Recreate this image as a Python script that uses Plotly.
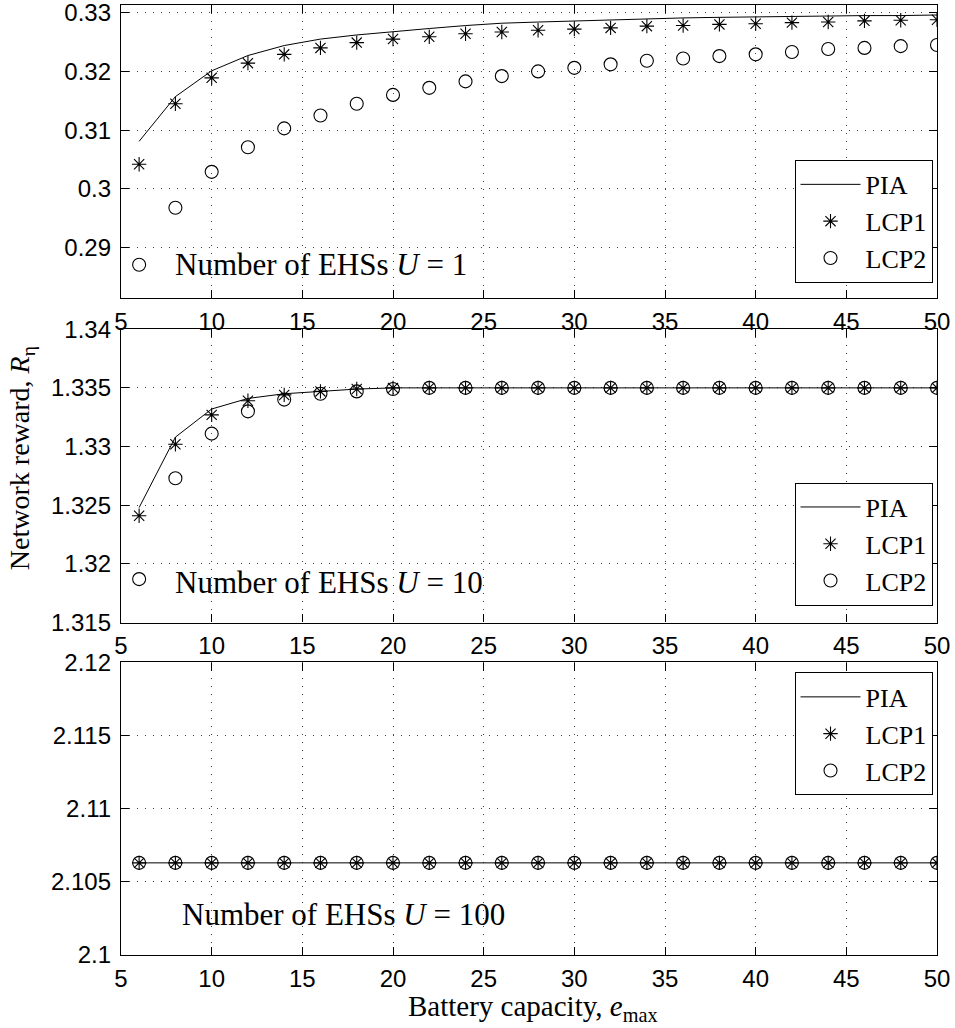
import plotly.graph_objects as go

# ---------------- data ----------------
battery_capacity = [6, 8, 10, 12, 14, 16, 18, 20, 22, 24, 26, 28, 30, 32, 34, 36, 38, 40, 42, 44, 46, 48, 50]

# U = 1
pia_u1 = [0.3081, 0.3157, 0.3201, 0.3227, 0.3244, 0.3255, 0.3262, 0.3268, 0.3273, 0.3278, 0.3282, 0.3284,
          0.3286, 0.3288, 0.3290, 0.3291, 0.3292, 0.3293, 0.3294, 0.3294, 0.3295, 0.3295, 0.3296]
lcp1_u1 = [0.3042, 0.3145, 0.3189, 0.3214, 0.3229, 0.3240, 0.3249, 0.3255, 0.3259, 0.3264, 0.3267, 0.3270,
           0.3272, 0.3274, 0.3277, 0.3278, 0.3280, 0.3281, 0.3283, 0.3284, 0.3286, 0.3287, 0.3288]
lcp2_u1 = [0.2871, 0.2968, 0.3029, 0.3071, 0.3103, 0.3125, 0.3145, 0.3160, 0.3172, 0.3183, 0.3192, 0.3200,
           0.3206, 0.3212, 0.3218, 0.3222, 0.3226, 0.3229, 0.3233, 0.3238, 0.3240, 0.3243, 0.3245]

# U = 10
pia_u10 = [1.3248, 1.3308, 1.3332, 1.3341, 1.3345, 1.3347, 1.3349, 1.3350, 1.3350, 1.3350, 1.3350, 1.3350,
           1.3350, 1.3350, 1.3350, 1.3350, 1.3350, 1.3350, 1.3350, 1.3350, 1.3350, 1.3350, 1.3350]
lcp1_u10 = [1.3241, 1.3302, 1.3327, 1.3339, 1.3344, 1.3347, 1.3349, 1.3350, 1.3350, 1.3350, 1.3350, 1.3350,
            1.3350, 1.3350, 1.3350, 1.3350, 1.3350, 1.3350, 1.3350, 1.3350, 1.3350, 1.3350, 1.3350]
lcp2_u10 = [1.3187, 1.3273, 1.3311, 1.3330, 1.3340, 1.3345, 1.3347, 1.3349, 1.3350, 1.3350, 1.3350, 1.3350,
            1.3350, 1.3350, 1.3350, 1.3350, 1.3350, 1.3350, 1.3350, 1.3350, 1.3350, 1.3350, 1.3350]

# U = 100
pia_u100 = [2.1063, 2.1063, 2.1063, 2.1063, 2.1063, 2.1063, 2.1063, 2.1063, 2.1063, 2.1063, 2.1063, 2.1063,
            2.1063, 2.1063, 2.1063, 2.1063, 2.1063, 2.1063, 2.1063, 2.1063, 2.1063, 2.1063, 2.1063]
lcp1_u100 = [2.1063, 2.1063, 2.1063, 2.1063, 2.1063, 2.1063, 2.1063, 2.1063, 2.1063, 2.1063, 2.1063, 2.1063,
             2.1063, 2.1063, 2.1063, 2.1063, 2.1063, 2.1063, 2.1063, 2.1063, 2.1063, 2.1063, 2.1063]
lcp2_u100 = [2.1063, 2.1063, 2.1063, 2.1063, 2.1063, 2.1063, 2.1063, 2.1063, 2.1063, 2.1063, 2.1063, 2.1063,
             2.1063, 2.1063, 2.1063, 2.1063, 2.1063, 2.1063, 2.1063, 2.1063, 2.1063, 2.1063, 2.1063]

x_ticks = [5, 10, 15, 20, 25, 30, 35, 40, 45, 50]
y_ticks_u1 = [0.29, 0.30, 0.31, 0.32, 0.33]
y_ticklabels_u1 = ["0.29", "0.3", "0.31", "0.32", "0.33"]
y_ticks_u10 = [1.315, 1.32, 1.325, 1.33, 1.335, 1.34]
y_ticklabels_u10 = ["1.315", "1.32", "1.325", "1.33", "1.335", "1.34"]
y_ticks_u100 = [2.1, 2.105, 2.11, 2.115, 2.12]
y_ticklabels_u100 = ["2.1", "2.105", "2.11", "2.115", "2.12"]

series_names = ["PIA", "LCP1", "LCP2"]
panel_labels = ["Number of EHSs <i>U</i> = 1", "Number of EHSs <i>U</i> = 10", "Number of EHSs <i>U</i> = 100"]

# ---------------- figure ----------------
SERIF = "Liberation Serif"
SANS = "Liberation Sans"

fig = go.Figure()

panels = [
    (pia_u1, lcp1_u1, lcp2_u1),
    (pia_u10, lcp1_u10, lcp2_u10),
    (pia_u100, lcp1_u100, lcp2_u100),
]
legend_ids = ["legend", "legend2", "legend3"]

for i, (pia, lcp1, lcp2) in enumerate(panels):
    ax = "" if i == 0 else str(i + 1)
    common = dict(xaxis="x" + ax, yaxis="y" + ax, legend=legend_ids[i])
    fig.add_trace(go.Scatter(x=battery_capacity, y=pia, mode="lines", name=series_names[0],
                             line=dict(color="black", width=1), legendgroup=f"p{i}a", **common))
    fig.add_trace(go.Scatter(x=battery_capacity, y=lcp1, mode="markers", name=series_names[1],
                             marker=dict(symbol="asterisk-open", size=12, color="black",
                                         line=dict(color="black", width=1.1)),
                             legendgroup=f"p{i}b", **common))
    fig.add_trace(go.Scatter(x=battery_capacity, y=lcp2, mode="markers", name=series_names[2],
                             marker=dict(symbol="circle-open", size=13, color="black",
                                         line=dict(color="black", width=1.1)),
                             legendgroup=f"p{i}c", **common))

grid_style = dict(showgrid=True, gridcolor="rgba(0,0,0,0.75)", gridwidth=1, griddash="1px,7px",
                  showline=True, linecolor="black", linewidth=1.3, mirror="allticks",
                  ticks="inside", ticklen=8, tickwidth=1, tickcolor="black", automargin=False,
                  ticklabeloverflow="allow",
                  zeroline=False, tickfont=dict(family=SANS, size=24, color="black"))

domains = [(0.6914, 1.0), (0.35, 0.6587), (0.0, 0.3079)]
y_ranges = [(0.2814, 0.3313), (1.315, 1.34), (2.1, 2.12)]
y_tv = [(y_ticks_u1, y_ticklabels_u1), (y_ticks_u10, y_ticklabels_u10), (y_ticks_u100, y_ticklabels_u100)]

layout = dict(
    width=955, height=1028,
    margin=dict(l=121, r=18, t=5, b=73),
    paper_bgcolor="white", plot_bgcolor="white",
    showlegend=True,
)
for i in range(3):
    ax = "" if i == 0 else str(i + 1)
    layout["xaxis" + ax] = dict(domain=[0, 1], range=[5, 50], tickvals=x_ticks, anchor="y" + ax,
                                ticklabelstandoff=2, **grid_style)
    layout["yaxis" + ax] = dict(domain=list(domains[i]), range=list(y_ranges[i]),
                                tickvals=y_tv[i][0], ticktext=y_tv[i][1], anchor="x" + ax,
                                ticklabelstandoff=4, **grid_style)

legend_tops = [0.8369, 0.4973, 0.2974]
for i in range(3):
    layout[legend_ids[i]] = dict(x=0.9945, y=legend_tops[i], xanchor="right", yanchor="top",
                                 bgcolor="white", bordercolor="black", borderwidth=1,
                                 font=dict(family=SERIF, size=26, color="black"),
                                 tracegroupgap=7, itemwidth=60, traceorder="normal")

fig.update_layout(**layout)

# panel text labels
label_y = [(955.3 - 265) / 950.3, (955.3 - 582.7) / 950.3, (955.3 - 915) / 950.3]
label_x = [0.064, 0.064, 0.072]
for i in range(3):
    fig.add_annotation(text=panel_labels[i], xref="paper", yref="paper", x=label_x[i], y=label_y[i],
                       xanchor="left", yanchor="middle", showarrow=False,
                       font=dict(family=SERIF, size=31, color="black"))

# axis titles
fig.add_annotation(text="Network reward, <i>R</i><sub>η</sub>", xref="paper", yref="paper",
                   x=(22 - 120.7) / 815.8, y=(955.3 - 458) / 950.3, textangle=-90,
                   xanchor="center", yanchor="middle", showarrow=False,
                   font=dict(family=SERIF, size=28, color="black"))
fig.add_annotation(text="Battery capacity, <i>e</i><sub>max</sub>", xref="paper", yref="paper",
                   x=(533 - 120.7) / 815.8, y=(955.3 - 1008) / 950.3,
                   xanchor="center", yanchor="middle", showarrow=False,
                   font=dict(family=SERIF, size=29, color="black"))

fig.write_html("out.html")
